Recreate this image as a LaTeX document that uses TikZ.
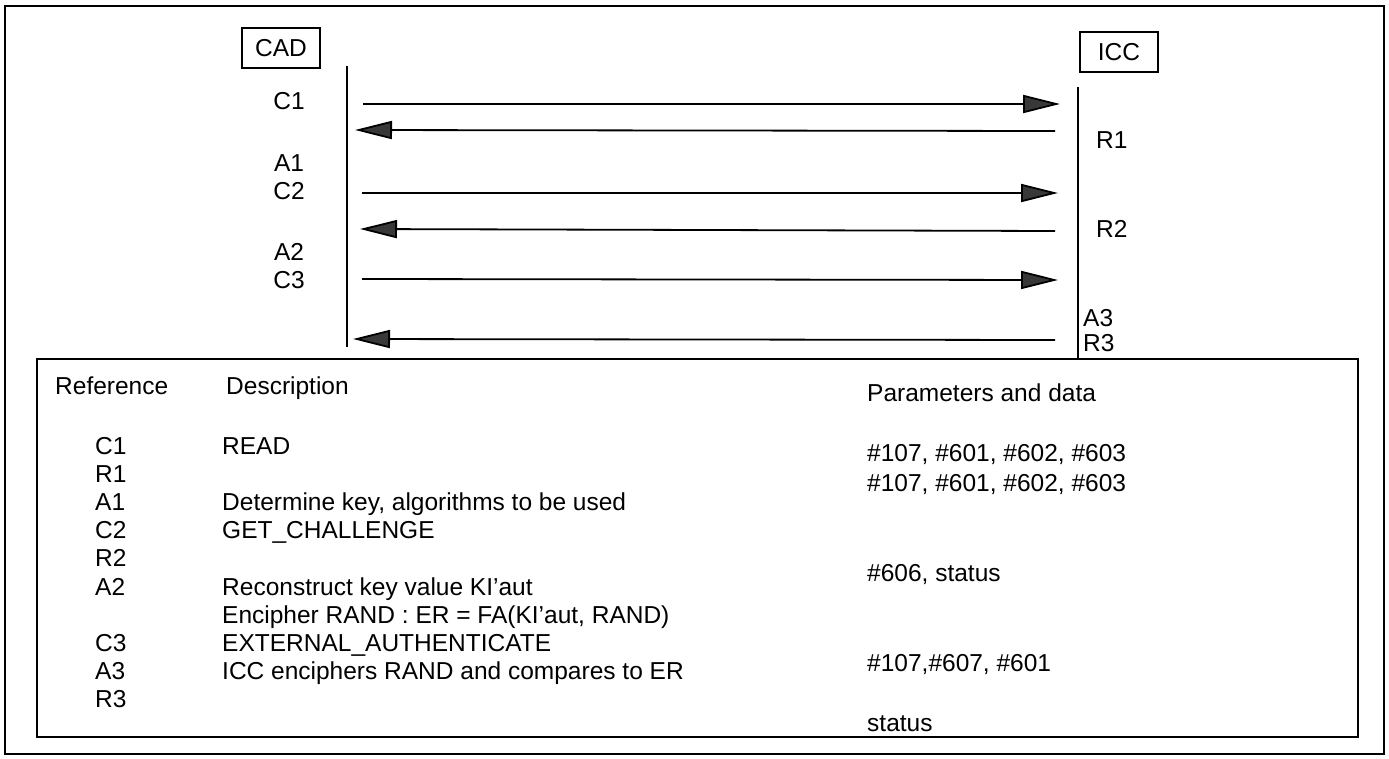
\documentclass[tikz,border=0pt]{standalone}
\usepackage{fontspec}
\setmainfont{Liberation Sans}
\usetikzlibrary{arrows.meta}

\begin{document}
\begin{tikzpicture}[x=1pt, y=-1pt,
		every node/.style={font=\fontsize{24.5}{28.2}\selectfont, inner sep=0pt},
		actor/.style={draw, line width=1.6pt, minimum width=78pt, minimum height=40pt},
		life/.style={line width=2.2pt},
		msg/.style={line width=1.8pt, -{Triangle[length=37pt, width=18pt, fill=black!78]}},
		col/.style={anchor=base west, align=left},
		frame/.style={line width=1.8pt}
		]
		\useasboundingbox (0,0) rectangle (1389,758);
		\draw[frame] (5,6) rectangle (1384,754);
		
		% the two parties and their life lines
		\node[actor] (cad) at (281,48) {CAD};
		\node[actor] (icc) at (1119,52) {ICC};
		\coordinate (cadtop) at (347,66);
		\coordinate (cadbot) at (347,347);
		\coordinate (icctop) at (1078,87);
		\coordinate (iccbot) at (1078,360);
		\draw[life] (cadtop) -- (cadbot);
		\draw[life] (icctop) -- (iccbot);
		
		% messages
		\coordinate (c1a) at (363,104);  \coordinate (c1b) at (1060,104);
		\coordinate (r1a) at (1055,131); \coordinate (r1b) at (355,130);
		\coordinate (c2a) at (362,193);  \coordinate (c2b) at (1058,193);
		\coordinate (r2a) at (1055,231); \coordinate (r2b) at (360,229);
		\coordinate (c3a) at (362,279);  \coordinate (c3b) at (1058,280);
		\coordinate (r3a) at (1055,340); \coordinate (r3b) at (353,339);
		\draw[msg] (c1a) -- (c1b);
		\draw[msg] (r1a) -- (r1b);
		\draw[msg] (c2a) -- (c2b);
		\draw[msg] (r2a) -- (r2b);
		\draw[msg] (c3a) -- (c3b);
		\draw[msg] (r3a) -- (r3b);
		
		% step labels beside the life lines
		\node (lc1) at (289,101) {C1};
		\node (la1) at (289,163) {A1};
		\node (lc2) at (289,191) {C2};
		\node (la2) at (289,252) {A2};
		\node (lc3) at (289,280) {C3};
		\node[anchor=west] (lr1) at (1096,140) {R1};
		\node[anchor=west] (lr2) at (1096,229) {R2};
		\node[anchor=west] (la3) at (1083,318) {A3};
		\node[anchor=west] (lr3) at (1083,343) {R3};
		
		% legend table
		\draw[frame] (37,359) rectangle (1358,737);
		\node[col] (href) at (55,394) {Reference};
		\node[col] (hdesc) at (226,394) {Description};
		\node[col] (hpar) at (867,401) {Parameters and data};
		\node[col] (refs) at (95,454) {
			\begin{tabular}[t]{@{}l@{}}
				C1\\ R1\\ A1\\ C2\\ R2\\ A2\\ \\ C3\\ A3\\ R3
			\end{tabular}
		};
		\node[col] (descs) at (222,454) {
			\begin{tabular}[t]{@{}l@{}}
				READ\\
				\\
				Determine key, algorithms to be used\\
				GET\_CHALLENGE\\
				\\
				Reconstruct key value KI'aut\\
				Encipher RAND : ER = FA(KI'aut, RAND)\\
				EXTERNAL\_AUTHENTICATE\\
				ICC enciphers RAND and compares to ER\\
				\\
			\end{tabular}
		};
		\node[col, font=\fontsize{24.5}{30}\selectfont] (pars) at (867,461) {
			\begin{tabular}[t]{@{}l@{}}
				\#107, \#601, \#602, \#603\\
				\#107, \#601, \#602, \#603\\
				\\ \\
				\#606, status\\
				\\ \\
				\#107,\#607, \#601\\
				\\
				status
			\end{tabular}
		};
	\end{tikzpicture}
\end{document}
